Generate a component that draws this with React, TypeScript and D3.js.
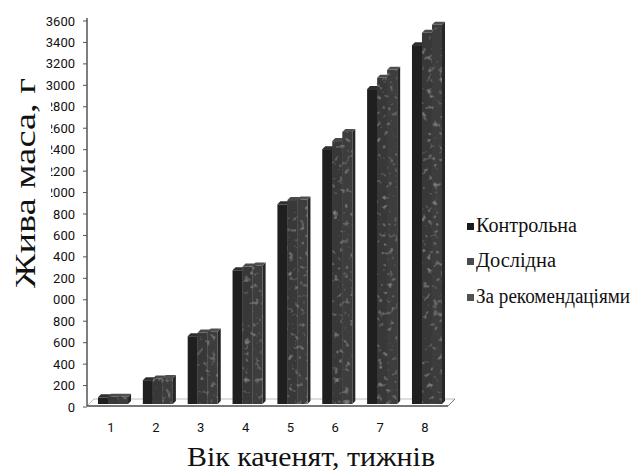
import React from 'react';
import * as d3 from 'd3';

const weeks = ['1', '2', '3', '4', '5', '6', '7', '8'];
const seriesNames = ['Контрольна', 'Дослідна', 'За рекомендаціями'];
const control = [90, 250, 660, 1275, 1890, 2405, 2965, 3375];
const experimental = [95, 265, 695, 1310, 1930, 2480, 3070, 3490];
const recommended = [95, 270, 705, 1320, 1935, 2565, 3145, 3565];
const yTicks = d3.range(0, 3601, 200);

const seriesValues = [control, experimental, recommended];
const frontColors = ['#1f1f1f', '#393939', '#3e3e3e'];
const sideColors = ['#101010', '#222222', '#262626'];
const topColors = ['#2e2e2e', '#4a4a4a', '#505050'];
const legendColors = ['#1a1a1a', '#4a4a4a', '#525252'];

const W = 642;
const H = 471;
const axisX = 87;
const floorY = 406;
const baseY = 404;
const dx = 3;
const dy = 3;
const serif = "'Liberation Serif', 'DejaVu Serif', serif";

export default function App() {
  const y = d3.scaleLinear().domain([0, 3600]).range([407, 21]);
  const x0 = d3.scaleBand<string>().domain(weeks).range([87, 453]).paddingInner(0.33).paddingOuter(0.245);
  const x1 = d3.scaleBand<number>().domain([0, 1, 2]).range([0, x0.bandwidth()]).padding(0);
  const bw = x1.bandwidth();

  const bars: JSX.Element[] = [];
  weeks.forEach((w, i) => {
    seriesValues.forEach((vals, s) => {
      const bx = (x0(w) as number) + (x1(s) as number);
      const ty = y(vals[i]);
      bars.push(
        <g key={`${w}-${s}`}>
          <polygon
            points={`${bx + bw},${ty} ${bx + bw + dx},${ty - dy} ${bx + bw + dx},${baseY - dy} ${bx + bw},${baseY}`}
            fill={sideColors[s]}
          />
          <polygon
            points={`${bx},${ty} ${bx + dx},${ty - dy} ${bx + bw + dx},${ty - dy} ${bx + bw},${ty}`}
            fill={topColors[s]}
          />
          <rect x={bx} y={ty} width={bw} height={baseY - ty} fill={frontColors[s]} filter={s > 0 ? 'url(#tex)' : undefined} />
        </g>
      );
    });
  });

  return (
    <svg width={W} height={H} style={{ position: 'absolute', left: 0, top: 0, background: '#fff' }}>
      <defs>
        <filter id="tex" x="0" y="0" width="1" height="1">
          <feTurbulence type="fractalNoise" baseFrequency="0.18" numOctaves="2" seed="5" result="n" />
          <feColorMatrix in="n" type="matrix" values="0 0 0 0 0.42  0 0 0 0 0.42  0 0 0 0 0.42  0 0 0 1.6 -0.95" result="spots" />
          <feComposite in="spots" in2="SourceGraphic" operator="in" result="s2" />
          <feMerge>
            <feMergeNode in="SourceGraphic" />
            <feMergeNode in="s2" />
          </feMerge>
        </filter>
      </defs>
      <rect width={W} height={H} fill="#fff" />
      {/* floor */}
      <polygon points={`${axisX},${floorY} ${448},${floorY} ${455},${399} ${94},${399}`} fill="#fff" stroke="#bdbdbd" strokeWidth={1} />
      <line x1={axisX} y1={floorY} x2={448} y2={floorY} stroke="#555" strokeWidth={1.5} />
      <line x1={448} y1={floorY} x2={455} y2={399} stroke="#777" strokeWidth={1} />
      {bars}
      {/* y axis */}
      <line x1={axisX} y1={18} x2={axisX} y2={floorY} stroke="#555" strokeWidth={1.5} />
      {yTicks.map((t) => (
        <g key={t}>
          <line x1={axisX - 4} y1={y(t)} x2={axisX} y2={y(t)} stroke="#555" strokeWidth={1} />
          <text x={75} y={y(t)} dy="0.35em" textAnchor="end" fontFamily="Roboto" fontSize={13} fill="#111">
            {t}
          </text>
        </g>
      ))}
      {weeks.map((w) => (
        <text key={w} x={(x0(w) as number) + x0.bandwidth() / 2 - 2} y={432} textAnchor="middle" fontFamily="Roboto" fontSize={13} fill="#111">
          {w}
        </text>
      ))}
      {/* mask from title box */}
      <rect x={0} y={95} width={51} height={212} fill="#fff" />
      <text
        transform="translate(35,183) rotate(-90)"
        textAnchor="middle"
        fontFamily={serif}
        fontSize={30}
        textLength={210}
        lengthAdjust="spacingAndGlyphs"
        fill="#111"
      >
        Жива маса, г
      </text>
      <text x={311} y={466} textAnchor="middle" fontFamily={serif} fontSize={28} textLength={248} lengthAdjust="spacingAndGlyphs" fill="#111">
        Вік каченят, тижнів
      </text>
      {seriesNames.map((n, i) => {
        const ly = [227, 262, 298][i];
        const tl = [101, 80, 154][i];
        return (
          <g key={n}>
            <rect x={467} y={ly - 4} width={7} height={7} fill={legendColors[i]} />
            <text x={476} y={ly + 5} fontFamily={serif} fontSize={20} textLength={tl} lengthAdjust="spacingAndGlyphs" fill="#111">
              {n}
            </text>
          </g>
        );
      })}
    </svg>
  );
}
